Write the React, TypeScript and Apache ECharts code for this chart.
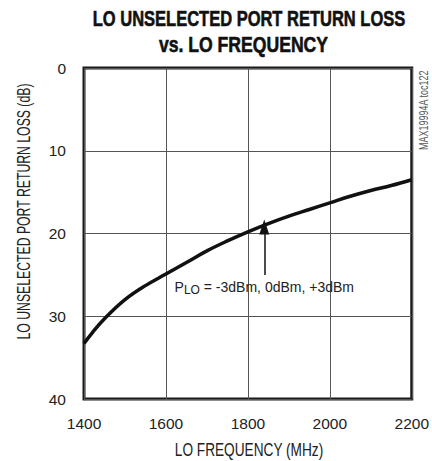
import React, { useEffect, useRef } from "react";
import * as echarts from "echarts";

const freqMHz = [1400, 1420, 1450, 1500, 1550, 1600, 1650, 1700, 1750, 1800, 1850, 1900, 1950, 2000, 2050, 2100, 2150, 2200];
const returnLossDb = [33.3, 32.0, 30.3, 28.0, 26.3, 24.9, 23.5, 22.1, 20.9, 19.8, 18.8, 17.9, 17.1, 16.3, 15.5, 14.8, 14.2, 13.5];
const arrowFreq = 1840;
const arrowFromDb = 25;
const arrowToDb = 19.2;
const annotationText = " = -3dBm, 0dBm, +3dBm";
const titleLine1 = "LO UNSELECTED PORT RETURN LOSS";
const titleLine2 = "vs. LO FREQUENCY";
const xAxisTitle = "LO FREQUENCY (MHz)";
const yAxisTitle = "LO UNSELECTED PORT RETURN LOSS (dB)";
const tocLabel = "MAX19994A toc122";

const FONT = "'Liberation Sans', Arial, Helvetica, sans-serif";

export default function App() {
  const ref = useRef<HTMLDivElement>(null);
  useEffect(() => {
    if (!ref.current) return;
    const chart = echarts.init(ref.current, undefined, { renderer: "svg" });
    const data = freqMHz.map((f, i) => [f, returnLossDb[i]]);
    chart.setOption({
      animation: false,
      backgroundColor: "#fff",
      grid: { left: 84, right: 17, top: 68, bottom: 62, show: true, borderColor: "#1a1a1a", borderWidth: 3, backgroundColor: "transparent" },
      xAxis: {
        type: "value",
        min: 1400,
        max: 2200,
        interval: 200,
        axisLine: { show: false },
        axisTick: { show: false },
        axisLabel: { fontFamily: FONT, fontSize: 15.5, color: "#222", margin: 16, formatter: (v: number) => String(v) },
        splitLine: { show: true, lineStyle: { color: "#555", width: 1 } },
      },
      yAxis: {
        type: "value",
        inverse: true,
        min: 0,
        max: 40,
        interval: 10,
        axisLine: { show: false },
        axisTick: { show: false },
        axisLabel: { fontFamily: FONT, fontSize: 15.5, color: "#222", margin: 18 },
        splitLine: { show: true, lineStyle: { color: "#555", width: 1 } },
      },
      graphic: [
        {
          type: "text",
          x: 249,
          y: 18,
          scaleX: 0.75,
          style: { text: titleLine1, fontFamily: FONT, fontWeight: "bold", fontSize: 22, fill: "#111", stroke: "#111", lineWidth: 0.6, textAlign: "center", textVerticalAlign: "middle" },
        },
        {
          type: "text",
          x: 243.5,
          y: 44,
          scaleX: 0.8,
          style: { text: titleLine2, fontFamily: FONT, fontWeight: "bold", fontSize: 22, fill: "#111", stroke: "#111", lineWidth: 0.6, textAlign: "center", textVerticalAlign: "middle" },
        },
        {
          type: "text",
          x: 249,
          y: 450,
          scaleX: 0.78,
          style: { text: xAxisTitle, fontFamily: FONT, fontSize: 17.5, fill: "#222", textAlign: "center", textVerticalAlign: "middle" },
        },
        {
          type: "text",
          x: 24,
          y: 211.5,
          rotation: Math.PI / 2,
          scaleX: 0.7,
          style: { text: yAxisTitle, fontFamily: FONT, fontSize: 17.5, fill: "#222", textAlign: "center", textVerticalAlign: "middle" },
        },
        {
          type: "text",
          x: 423,
          y: 150,
          rotation: Math.PI / 2,
          scaleX: 0.75,
          style: { text: tocLabel, fontFamily: FONT, fontSize: 12, fill: "#555", textAlign: "left", textVerticalAlign: "middle" },
        },
      ],
      series: [
        {
          type: "line",
          data,
          smooth: 0.4,
          showSymbol: false,
          lineStyle: { color: "#111", width: 3.5 },
          markLine: {
            silent: true,
            symbol: ["none", "triangle"],
            symbolSize: [10, 15],
            lineStyle: { color: "#111", width: 1.5, type: "solid" },
            label: {
              show: true,
              position: "start",
              distance: 3,
              formatter: "{a|P}{b|LO}{a|" + annotationText + "}",
              rich: {
                a: { fontFamily: FONT, fontSize: 14, color: "#222" },
                b: { fontFamily: FONT, fontSize: 12, color: "#222", padding: [6, 0, 0, 0] },
              },
            },
            data: [[{ coord: [arrowFreq, arrowFromDb] }, { coord: [arrowFreq, arrowToDb] }]],
          },
        },
      ],
    });
    return () => chart.dispose();
  }, []);
  return <div ref={ref} style={{ position: "fixed", left: 0, top: 0, width: 432, height: 461 }} />;
}
